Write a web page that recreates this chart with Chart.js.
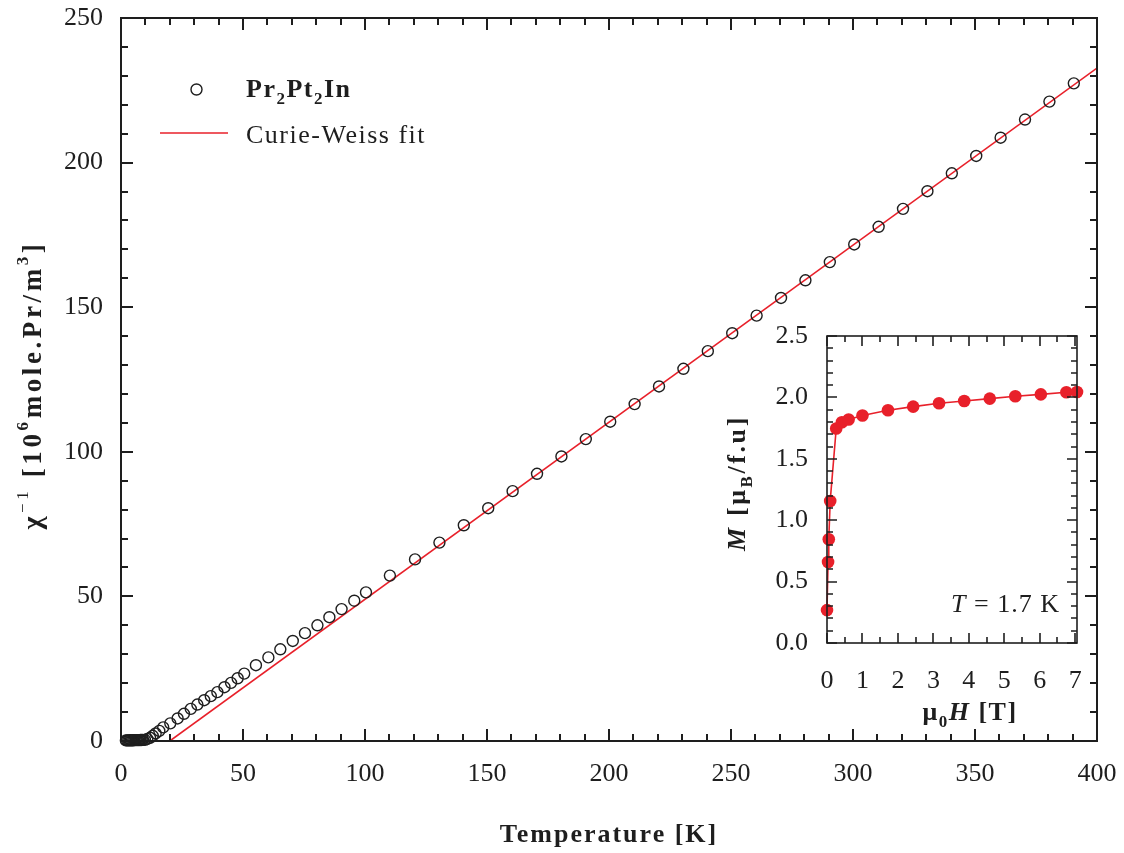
<!DOCTYPE html>
<html>
<head>
<meta charset="utf-8">
<script src="https://cdn.jsdelivr.net/npm/chart.js"></script>
<style>
  html, body { margin: 0; padding: 0; background: #fff; }
  #wrap { position: relative; width: 1124px; height: 853px; }
  #wrap canvas { position: absolute; left: 0; top: 0; }
</style>
</head>
<body>
<div id="wrap">
  <canvas id="main" width="1124" height="853"></canvas>
  <canvas id="inset" width="1124" height="853"></canvas>
</div>
<script>
// inverse susceptibility vs temperature
const temperature = [
  2, 2.5, 3, 3.5, 4, 4.5, 5, 5.5, 6, 6.5, 7, 7.5, 8, 8.5, 9, 9.8,
  10.8, 11.9, 13.0, 14.2, 15.7, 17.3, 20.2, 23.2, 25.8, 28.6, 31.3, 34.1,
  36.8, 39.5, 42.4, 45.1, 47.8, 50.5, 55.3, 60.4, 65.3, 70.4, 75.4, 80.5,
  85.4, 90.4, 95.6, 100.4, 110.2, 120.5, 130.5, 140.5, 150.5, 160.5, 170.5,
  180.5, 190.5, 200.5, 210.5, 220.5, 230.5, 240.5, 250.5, 260.5, 270.5,
  280.5, 290.5, 300.5, 310.5, 320.5, 330.5, 340.5, 350.5, 360.5, 370.5,
  380.5, 390.5
];
const inverseChi = [
  0.2, 0.2, 0.2, 0.2, 0.25, 0.25, 0.25, 0.3, 0.3, 0.3, 0.3, 0.3, 0.35, 0.35, 0.4, 0.4,
  0.7, 1.1, 1.8, 2.6, 3.5, 4.7, 6.1, 7.8, 9.4, 11.1, 12.6, 14.1,
  15.5, 16.9, 18.6, 20.1, 21.7, 23.3, 26.2, 28.9, 31.7, 34.6, 37.3, 40.0,
  42.8, 45.6, 48.5, 51.4, 57.2, 62.8, 68.6, 74.6, 80.5, 86.4, 92.4,
  98.4, 104.4, 110.4, 116.5, 122.6, 128.7, 134.8, 141.0, 147.1, 153.2,
  159.3, 165.6, 171.7, 177.8, 184.0, 190.1, 196.3, 202.3, 208.6, 214.9,
  221.1, 227.4
];
// Curie-Weiss fit line end points
const fitTemperature = [20, 400];
const fitInverseChi = [0, 232.7];

// inset: magnetization isotherm at 1.7 K
const field = [0, 0.03, 0.05, 0.09, 0.26, 0.42, 0.61, 1.0, 1.72, 2.43, 3.16, 3.87, 4.59, 5.31, 6.03, 6.75, 7.05];
const magnetization = [0.268, 0.66, 0.845, 1.156, 1.747, 1.798, 1.82, 1.852, 1.895, 1.925, 1.952, 1.971, 1.99, 2.009, 2.025, 2.042, 2.044];

const RED = '#e8202a';
const INK = '#1e1e1e';
const SERIF = "'Liberation Serif', 'Times New Roman', serif";

const toPoints = (xs, ys) => xs.map((x, i) => ({ x, y: ys[i] }));

// fixed axis size, and no extra room for the end labels
const fixSize = (prop, size) => (s) => {
  s[prop] = size;
  s.paddingTop = s.paddingBottom = s.paddingLeft = s.paddingRight = 0;
};

// writes a run of text pieces [text, font, dy] one after another
function drawRich(ctx, parts, x, y, align, spacing) {
  ctx.letterSpacing = (spacing || 0) + 'px';
  ctx.textAlign = 'left';
  ctx.textBaseline = 'alphabetic';
  let w = 0;
  for (const p of parts) { ctx.font = p[1]; w += ctx.measureText(p[0]).width; }
  let cx = align === 'center' ? x - w / 2 : align === 'right' ? x - w : x;
  for (const p of parts) {
    ctx.font = p[1];
    ctx.fillText(p[0], cx, y + (p[2] || 0));
    cx += ctx.measureText(p[0]).width;
  }
  ctx.letterSpacing = '0px';
}

// box around the plot with inward ticks on all four sides
const frameTicks = {
  id: 'frameTicks',
  afterDatasetsDraw(chart, args, o) {
    const { ctx, chartArea: a, scales } = chart;
    ctx.save();
    ctx.strokeStyle = INK;
    ctx.lineWidth = o.lineWidth;
    ctx.beginPath();
    const sx = scales.x, sy = scales.y;
    for (let i = 0; ; i++) {
      const v = sx.min + i * o.xMinor;
      if (v > sx.max + 1e-9) break;
      const px = Math.round(sx.getPixelForValue(v));
      const major = Math.abs(v / o.xMajor - Math.round(v / o.xMajor)) < 1e-6;
      const len = major ? o.majorLen : o.minorLen;
      ctx.moveTo(px, a.bottom); ctx.lineTo(px, a.bottom - len);
      ctx.moveTo(px, a.top); ctx.lineTo(px, a.top + len);
    }
    for (let i = 0; ; i++) {
      const v = sy.min + i * o.yMinor;
      if (v > sy.max + 1e-9) break;
      const py = Math.round(sy.getPixelForValue(v));
      const major = Math.abs(v / o.yMajor - Math.round(v / o.yMajor)) < 1e-6;
      const len = major ? o.majorLen : o.minorLen;
      ctx.moveTo(a.left, py); ctx.lineTo(a.left + len, py);
      ctx.moveTo(a.right, py); ctx.lineTo(a.right - len, py);
    }
    ctx.stroke();
    ctx.strokeRect(a.left, a.top, a.right - a.left, a.bottom - a.top);
    ctx.restore();
  }
};

const mainText = {
  id: 'mainText',
  afterDraw(chart) {
    const { ctx, chartArea: a } = chart;
    ctx.save();
    ctx.fillStyle = INK;
    const B = 'bold 26px ' + SERIF, Bs = 'bold 17px ' + SERIF;
    const R = '26px ' + SERIF, Rs = '17px ' + SERIF;
    drawRich(ctx, [['Temperature [K]', B]], (a.left + a.right) / 2, 842, 'center', 2);

    ctx.translate(41, 385);
    ctx.rotate(-Math.PI / 2);
    drawRich(ctx, [
      ['\u03c7', 'bold 28px ' + SERIF], ['\u22121', Rs, -13], [' [10', 'bold 27px ' + SERIF], ['6', Bs, -13],
      ['mole.Pr/m', 'bold 27px ' + SERIF], ['3', Bs, -13], [']', 'bold 27px ' + SERIF]
    ], 0, 0, 'center', 3.6);
    ctx.restore();

    // legend
    ctx.save();
    ctx.strokeStyle = INK; ctx.lineWidth = 1.4;
    ctx.beginPath(); ctx.arc(196.5, 89.5, 5.5, 0, Math.PI * 2); ctx.stroke();
    ctx.strokeStyle = RED; ctx.lineWidth = 1.6;
    ctx.beginPath(); ctx.moveTo(160, 133); ctx.lineTo(228, 133); ctx.stroke();
    ctx.fillStyle = INK;
    drawRich(ctx, [['Pr', B], ['2', Bs, 7], ['Pt', B], ['2', Bs, 7], ['In', B]], 246, 97, 'left', 1.5);
    drawRich(ctx, [['Curie-Weiss fit', R]], 246, 143, 'left', 1.5);
    ctx.restore();
  }
};

const insetText = {
  id: 'insetText',
  afterDraw(chart) {
    const { ctx, chartArea: a } = chart;
    ctx.save();
    ctx.fillStyle = INK;
    const B = 'bold 26px ' + SERIF, Bs = 'bold 17px ' + SERIF, BI = 'italic bold 26px ' + SERIF;
    const R = '26px ' + SERIF, I = 'italic 26px ' + SERIF;
    drawRich(ctx, [['\u03bc', B], ['0', Bs, 7], ['H', BI], [' [T]', B]], 970, 720, 'center', 1.5);
    drawRich(ctx, [['T', I], [' = 1.7 K', R]], a.right - 17, 612, 'right', 1);

    ctx.translate(745, 483);
    ctx.rotate(-Math.PI / 2);
    drawRich(ctx, [['M', BI], [' [\u03bc', B], ['B', Bs, 7], ['/f.u]', B]], 0, 0, 'center', 2.6);
    ctx.restore();
  }
};

const tickFont = { family: SERIF, size: 26 };

new Chart(document.getElementById('main'), {
  type: 'scatter',
  data: {
    datasets: [
      {
        label: 'Pr2Pt2In',
        data: toPoints(temperature, inverseChi),
        pointStyle: 'circle',
        pointRadius: 5.5,
        borderWidth: 1.4,
        borderColor: INK,
        backgroundColor: 'rgba(0,0,0,0)',
        showLine: false,
        clip: false
      },
      {
        label: 'Curie-Weiss fit',
        data: toPoints(fitTemperature, fitInverseChi),
        showLine: true,
        borderColor: RED,
        borderWidth: 1.6,
        pointRadius: 0
      }
    ]
  },
  options: {
    responsive: false,
    devicePixelRatio: 1,
    animation: false,
    layout: { padding: { left: 0, top: 18, right: 27, bottom: 0 } },
    plugins: {
      legend: { display: false },
      tooltip: { enabled: false },
      frameTicks: { lineWidth: 2, xMinor: 10, xMajor: 50, yMinor: 10, yMajor: 50, majorLen: 12, minorLen: 7 }
    },
    scales: {
      x: {
        type: 'linear', min: 0, max: 400,
        grid: { display: false }, border: { display: false },
        ticks: { stepSize: 50, font: tickFont, color: INK, padding: 10, maxRotation: 0 },
        afterFit: fixSize('height', 112)
      },
      y: {
        type: 'linear', min: 0, max: 250,
        grid: { display: false }, border: { display: false },
        ticks: { stepSize: 50, font: tickFont, color: INK, padding: 10 },
        afterFit: fixSize('width', 121)
      }
    }
  },
  plugins: [frameTicks, mainText]
});

new Chart(document.getElementById('inset'), {
  type: 'scatter',
  data: {
    datasets: [{
      label: 'M(H) at 1.7 K',
      data: toPoints(field, magnetization),
      showLine: true,
      borderColor: RED,
      borderWidth: 1.6,
      pointStyle: 'circle',
      pointRadius: 6.3,
      pointBackgroundColor: RED,
      pointBorderColor: RED,
      pointBorderWidth: 0,
      clip: false
    }]
  },
  options: {
    responsive: false,
    devicePixelRatio: 1,
    animation: false,
    layout: { padding: { left: 700, top: 336, right: 47, bottom: 150 } },
    plugins: {
      legend: { display: false },
      tooltip: { enabled: false },
      frameTicks: { lineWidth: 1.6, xMinor: 0.5, xMajor: 1, yMinor: 0.1, yMajor: 0.5, majorLen: 10, minorLen: 6 }
    },
    scales: {
      x: {
        type: 'linear', min: 0, max: 7.05,
        grid: { display: false }, border: { display: false },
        afterBuildTicks: (s) => { s.ticks = [0, 1, 2, 3, 4, 5, 6, 7].map((v) => ({ value: v })); },
        ticks: { font: tickFont, color: INK, padding: 15, maxRotation: 0 },
        afterFit: fixSize('height', 60)
      },
      y: {
        type: 'linear', min: 0, max: 2.5,
        grid: { display: false }, border: { display: false },
        ticks: { stepSize: 0.5, font: tickFont, color: INK, padding: 11, callback: (v) => v.toFixed(1) },
        afterFit: fixSize('width', 127)
      }
    }
  },
  plugins: [frameTicks, insetText]
});
</script>
</body>
</html>
